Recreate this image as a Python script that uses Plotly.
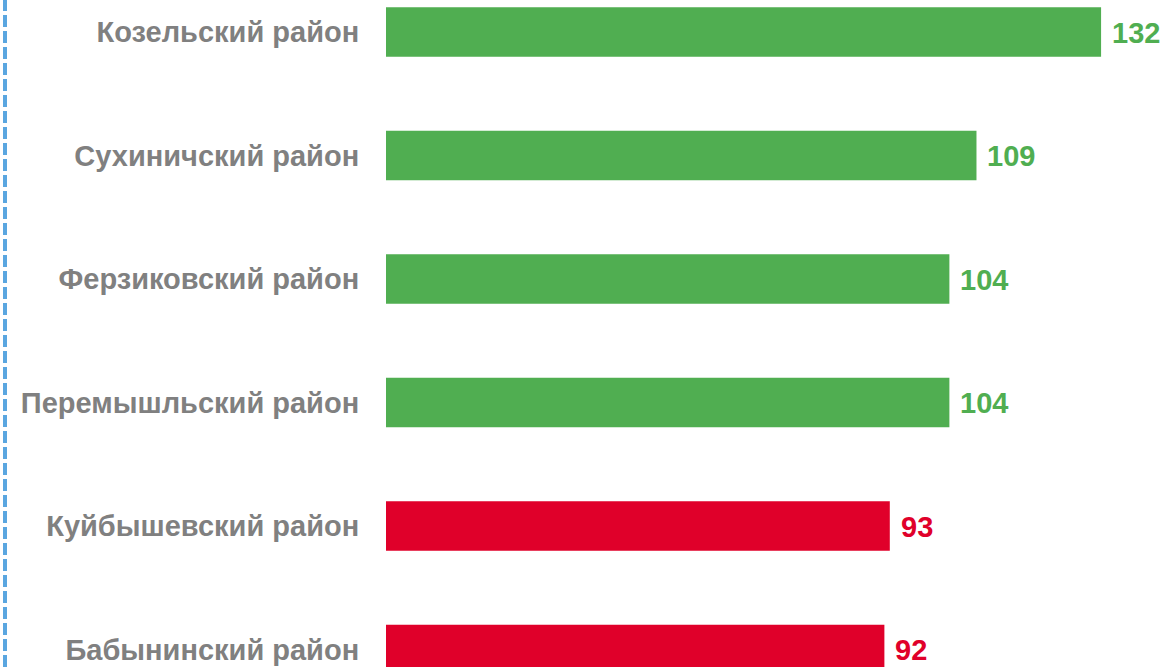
import plotly.graph_objects as go

categories = ["Козельский район", "Сухиничский район", "Ферзиковский район",
              "Перемышльский район", "Куйбышевский район", "Бабынинский район"]
values = [132, 109, 104, 104, 93, 92]

GREEN = "#50AE51"
RED = "#E0002A"
GRAY = "#808080"
colors = [GREEN if v >= 100 else RED for v in values]

W, H = 1165, 667
L = 386
fig = go.Figure()
fig.add_trace(go.Bar(
    y=categories, x=values, orientation="h",
    marker=dict(color=colors, line=dict(width=0)),
    width=0.4, hoverinfo="skip",
))

for c, v, col in zip(categories, values, colors):
    fig.add_annotation(x=v, y=c, text=str(v), showarrow=False,
                       xanchor="left", yanchor="middle", xshift=9, yshift=-1,
                       font=dict(family="Liberation Sans", size=29, color=col, weight="bold"))

fig.add_shape(type="line", xref="paper", yref="paper",
              x0=(5 - L) / (W - L), x1=(5 - L) / (W - L), y0=0, y1=1,
              line=dict(color="#5AA6E0", width=4, dash="12px,4px"))

fig.update_layout(
    width=W, height=H,
    margin=dict(l=L, r=0, t=0, b=0),
    paper_bgcolor="white", plot_bgcolor="white",
    showlegend=False,
    xaxis=dict(range=[0, 143.8], visible=False, fixedrange=True),
    yaxis=dict(categoryorder="array", categoryarray=categories,
               range=[5.142, -0.259], showgrid=False, zeroline=False,
               ticks="outside", ticklen=20, tickcolor="rgba(0,0,0,0)",
               tickfont=dict(family="Liberation Sans", size=29, color=GRAY, weight="bold"),
               showline=False, fixedrange=True),
)

fig.write_html("out.html", config={"displayModeBar": False, "staticPlot": True},
               post_script="document.body.style.margin='0';document.body.style.overflow='hidden';")
